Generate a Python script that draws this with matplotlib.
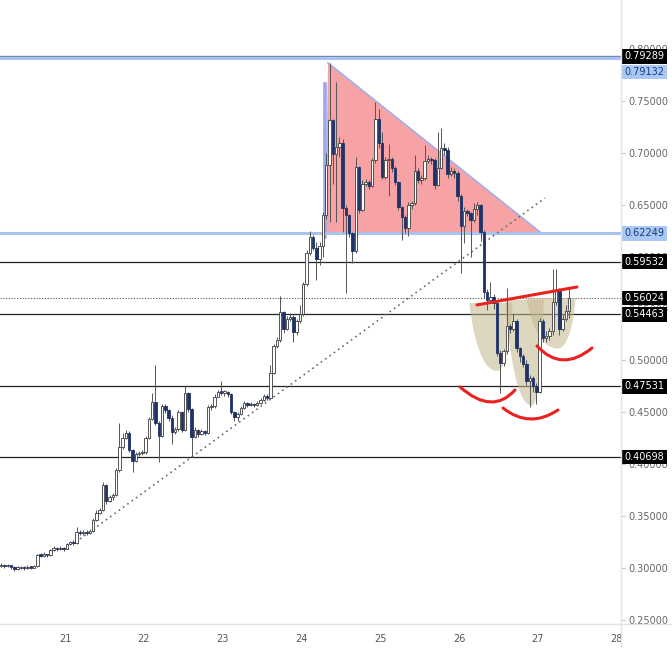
import numpy as np
import matplotlib
matplotlib.use('Agg')
import matplotlib.pyplot as plt
from matplotlib.path import Path
from matplotlib.patches import PathPatch, Polygon, Rectangle
from matplotlib.lines import Line2D

# hourly candles, starting at day 20.19
first_open = 0.3015
closes = [
    .3030, .3020, .3025, .3010, .2995, .3000, .3005, .3000, .3010, .3005,
    .3015, .3126, .3120, .3130, .3125, .3170, .3190, .3180, .3195, .3185,
    .3230, .3250, .3240, .3350, .3335, .3350, .3340, .3360, .3460, .3530,
    .3560, .3800, .3650, .3680, .3700, .3940, .4170, .4250, .4300, .4140,
    .4030, .4100, .4110, .4120, .4250, .4440, .4600, .4400, .4270, .4560,
    .4520, .4450, .4310, .4340, .4500, .4330, .4690, .4530, .4260, .4330,
    .4290, .4320, .4300, .4550, .4560, .4650, .4700, .4690, .4700, .4680,
    .4500, .4460, .4480, .4540, .4590, .4570, .4580, .4570, .4590, .4620,
    .4660, .4640, .4880, .5140, .5200, .5470, .5300, .5400, .5420, .5270,
    .5380, .5450, .5740, .6040, .6190, .6080, .5980, .6100, .6400, .6880,
    .7320, .6990, .7060, .7100, .6470, .6400, .6230, .6050, .6860, .6450,
    .6700, .6720, .6680, .6930, .7330, .7100, .6770, .6930, .6940, .6850,
    .6720, .6480, .6380, .6280, .6500, .6520, .6830, .6740, .6760, .6920,
    .6940, .6930, .6690, .6850, .7050, .7030, .6800, .6830, .6810, .6580,
    .6300, .6440, .6420, .6350, .6460, .6500, .6240, .5660, .5580, .5610,
    .5550, .5070, .4980, .5090, .5330, .5300, .5380, .5120, .5040, .4970,
    .4800, .4830, .4750, .4700, .5380, .5220, .5240, .5280, .5560, .5680,
    .5300, .5400, .5480, .5602,
]
highs = [
    .3045, .3040, .3040, .3030, .3020, .3015, .3020, .3015, .3025, .3020,
    .3030, .3140, .3145, .3150, .3140, .3185, .3215, .3205, .3210, .3205,
    .3245, .3265, .3270, .3400, .3365, .3370, .3365, .3380, .3480, .3555,
    .3580, .3830, .3810, .3700, .3720, .3960, .4400, .4300, .4330, .4320,
    .4150, .4120, .4130, .4140, .4270, .4460, .4690, .4960, .4420, .4580,
    .4580, .4530, .4470, .4360, .4520, .4510, .4750, .4700, .4540, .4360,
    .4340, .4340, .4330, .4570, .4580, .4680, .4720, .4800, .4720, .4710,
    .4690, .4510, .4500, .4560, .4610, .4600, .4600, .4590, .4610, .4640,
    .4680, .4680, .4960, .5160, .5230, .5620, .5480, .5430, .5460, .5440,
    .5400, .5530, .5760, .6060, .6250, .6210, .6140, .6140, .6430, .7000,
    .7866, .7330, .7680, .7150, .7130, .6500, .6410, .6240, .6960, .6870,
    .6740, .6750, .6740, .6950, .7490, .7420, .7200, .6960, .7090, .6960,
    .6870, .6730, .6490, .6400, .6530, .6540, .6980, .6850, .6790, .7080,
    .6980, .6960, .6950, .7200, .7240, .7100, .7060, .6860, .6850, .6830,
    .6600, .6480, .6460, .6430, .6520, .6530, .6510, .6260, .5690, .5760,
    .5640, .5570, .5100, .5110, .5700, .5350, .5450, .5400, .5130, .5060,
    .5000, .4860, .4850, .4780, .5410, .5400, .5280, .5310, .5880, .5880,
    .5700, .5440, .5530, .5700,
]
lows = [
    .3010, .3005, .3010, .2995, .2975, .2980, .2990, .2985, .2995, .2990,
    .3000, .3010, .3105, .3110, .3105, .3120, .3165, .3160, .3170, .3165,
    .3180, .3225, .3220, .3235, .3315, .3320, .3320, .3330, .3350, .3450,
    .3520, .3550, .3620, .3640, .3660, .3690, .3930, .4150, .4240, .4120,
    .3930, .4020, .4080, .4090, .4100, .4240, .4430, .4380, .4020, .4260,
    .4490, .4420, .4200, .4290, .4320, .4310, .4320, .4500, .4070, .4250,
    .4260, .4280, .4280, .4290, .4520, .4540, .4650, .4670, .4660, .4650,
    .4480, .4420, .4420, .4470, .4530, .4550, .4560, .4550, .4560, .4580,
    .4610, .4620, .4630, .4870, .5120, .5180, .5260, .5290, .5380, .5180,
    .5250, .5360, .5430, .5720, .6020, .6060, .5780, .5920, .6000, .6360,
    .6330, .6700, .6330, .6960, .6240, .5650, .6190, .5940, .6040, .6420,
    .6440, .6680, .6650, .6670, .6900, .7050, .6750, .6750, .6580, .6820,
    .6690, .6450, .6160, .6230, .6200, .6460, .6500, .6710, .6700, .6740,
    .6900, .6890, .6650, .6680, .6840, .6980, .6760, .6780, .6760, .6540,
    .5840, .6130, .6390, .6000, .6330, .6400, .6150, .5600, .5490, .5550,
    .5500, .5040, .4690, .4950, .5060, .5260, .5280, .5080, .4990, .4940,
    .4760, .4550, .4700, .4580, .4690, .5180, .5180, .5200, .5250, .5530,
    .5250, .5280, .5380, .5410,
]
start_day = 20.19

# horizontal levels
black_levels = [0.59532, 0.54463, 0.47531, 0.40698]
blue_levels = [0.79132, 0.62249]
top_black = 0.79289
last_price = 0.56024

price_ticks = [0.25, 0.30, 0.35, 0.40, 0.45, 0.50, 0.55, 0.60, 0.65, 0.70, 0.75, 0.80]
day_ticks = [21, 22, 23, 24, 25, 26, 27, 28]

# price-scale boxes: (text, y position, style)
boxes = [
    ('0.79289', 0.79289, 'black'),
    ('0.79132', 0.7779, 'blue'),
    ('0.62249', 0.62249, 'blue'),
    ('0.59532', 0.59532, 'black'),
    ('0.56024', 0.56024, 'black'),
    ('0.54463', 0.54463, 'black'),
    ('0.47531', 0.47531, 'black'),
    ('0.40698', 0.40698, 'black'),
]

# drawings (day, price)
triangle = [(24.338, 0.7866), (24.300, 0.6210), (27.053, 0.6222)]
vbar = (24.30, 0.7664, 0.6190)
trend = [(21.19, 0.3280), (27.091, 0.6565)]
neckline = [(26.228, 0.5535), (27.497, 0.5708)]
# shoulder/head blobs: x_left, x_right, top, x_bottom, y_bottom
blobs = [
    (26.130, 26.680, 0.5554, 26.482, 0.4900),
    (26.584, 27.075, 0.5583, 26.926, 0.4565),
    (26.855, 27.480, 0.5602, 27.256, 0.5115),
]
# red arcs: start, bottom, end
arcs = [
    ((26.013, 0.4745), (26.393, 0.4600), (26.711, 0.4716)),
    ((26.558, 0.4542), (26.901, 0.4436), (27.256, 0.4523)),
    ((26.990, 0.5140), (27.320, 0.5005), (27.688, 0.5120)),
]

c = np.array(closes)
h = np.array(highs)
l = np.array(lows)
o = np.r_[first_open, c[:-1]]
x = start_day + np.arange(len(c)) / 24

fig = plt.figure(figsize=(6.72, 6.48), dpi=100)
ax = fig.add_axes([0, 24 / 648, 621 / 672, 624 / 648])
ax.set_xlim(20.175, 28.056)
ax.set_ylim(0.2461, 0.8473)
for s in ax.spines.values():
    s.set_visible(False)

# levels
for lv in black_levels:
    ax.axhline(lv, color='#222222', lw=0.9, zorder=2)
ax.axhline(top_black, color='#6f86b8', lw=1.0, zorder=2)
for lv in blue_levels:
    ax.axhline(lv, color='#a9c3ee', lw=2.2, zorder=2)
ax.axhline(last_price, color='#555555', lw=0.8, ls=(0, (1, 1.5)), zorder=2)

# triangle + vertical bar
ax.add_patch(Polygon(triangle, closed=True, fc='#f7a3a6', ec='none', zorder=1))
ax.plot([triangle[0][0], triangle[2][0]], [triangle[0][1], triangle[2][1]],
        color='#a8aee6', lw=1.3, zorder=1.5)
ax.plot([vbar[0], vbar[0]], [vbar[1], vbar[2]], color='#9ea6ee', lw=2.6, zorder=1.5)

# trend line
ax.plot([trend[0][0], trend[1][0]], [trend[0][1], trend[1][1]],
        color='#6a6a6a', lw=1.2, ls=(0, (1, 2.2)), zorder=2.5)

# head & shoulders blobs
for xl, xr, top, xb, yb in blobs:
    mid = yb + 0.5 * (top - yb)
    verts = [(xl, top),
             (xl + 0.15 * (xb - xl), mid), (xb - 0.55 * (xb - xl), yb), (xb, yb),
             (xb + 0.55 * (xr - xb), yb), (xr - 0.1 * (xr - xb), mid), (xr, top),
             (xl, top)]
    codes = [Path.MOVETO, Path.CURVE4, Path.CURVE4, Path.CURVE4,
             Path.CURVE4, Path.CURVE4, Path.CURVE4, Path.CLOSEPOLY]
    ax.add_patch(PathPatch(Path(verts, codes), fc='#c4b68c', ec='none', alpha=0.55, zorder=2.6))

# candles
up = c >= o
ax.vlines(x, l, h, color='#555555', lw=0.7, zorder=3)
body = np.maximum(np.abs(c - o), 0.0012)
bottom = np.minimum(c, o)
ax.bar(x[up], body[up], bottom=bottom[up], width=0.031, color='white',
       edgecolor='#3c3c3c', lw=0.6, zorder=4)
ax.bar(x[~up], body[~up], bottom=bottom[~up], width=0.031, color='#1f3366',
       edgecolor='#1f3366', lw=0.6, zorder=4)

# neckline and arcs
ax.plot([neckline[0][0], neckline[1][0]], [neckline[0][1], neckline[1][1]],
        color='#e8231f', lw=2.2, solid_capstyle='round', zorder=6)
for p0, pb, p1 in arcs:
    ctrl = (2 * pb[0] - (p0[0] + p1[0]) / 2, 2 * pb[1] - (p0[1] + p1[1]) / 2)
    path = Path([p0, ctrl, p1], [Path.MOVETO, Path.CURVE3, Path.CURVE3])
    ax.add_patch(PathPatch(path, fc='none', ec='#e8231f', lw=2.2, capstyle='round', zorder=6))

# axes ticks
ax.yaxis.tick_right()
ax.set_yticks(price_ticks)
ax.set_yticklabels(['%.5f' % v for v in price_ticks])
ax.tick_params(axis='y', direction='out', length=3, color='#c8c8c8', labelsize=7,
               labelcolor='#666666', pad=2)
ax.set_xticks(day_ticks)
ax.set_xticklabels([str(d) for d in day_ticks])
ax.tick_params(axis='x', length=0, labelsize=7, labelcolor='#555555', pad=7)

for txt, yv, style in boxes:
    fc, tc = ('black', 'white') if style == 'black' else ('#a9c8f5', '#163d7a')
    ax.text(1.006, yv, txt, transform=ax.get_yaxis_transform(), ha='left', va='center',
            fontsize=7, color=tc, clip_on=False, zorder=10,
            bbox=dict(boxstyle='square,pad=0.25', fc=fc, ec='none'))

# price-scale panel edges
fig.add_artist(Rectangle((621 / 672, 0), 51 / 672, 24 / 648, transform=fig.transFigure,
                         fc='white', ec='none', zorder=20))
fig.add_artist(Line2D([621 / 672, 621 / 672], [0, 1], transform=fig.transFigure,
                      color='#e0e3eb', lw=1, zorder=21))
fig.add_artist(Line2D([0, 1], [24 / 648, 24 / 648], transform=fig.transFigure,
                      color='#e0e3eb', lw=1, zorder=21))

fig.savefig('out.png', dpi=100, facecolor='white')
